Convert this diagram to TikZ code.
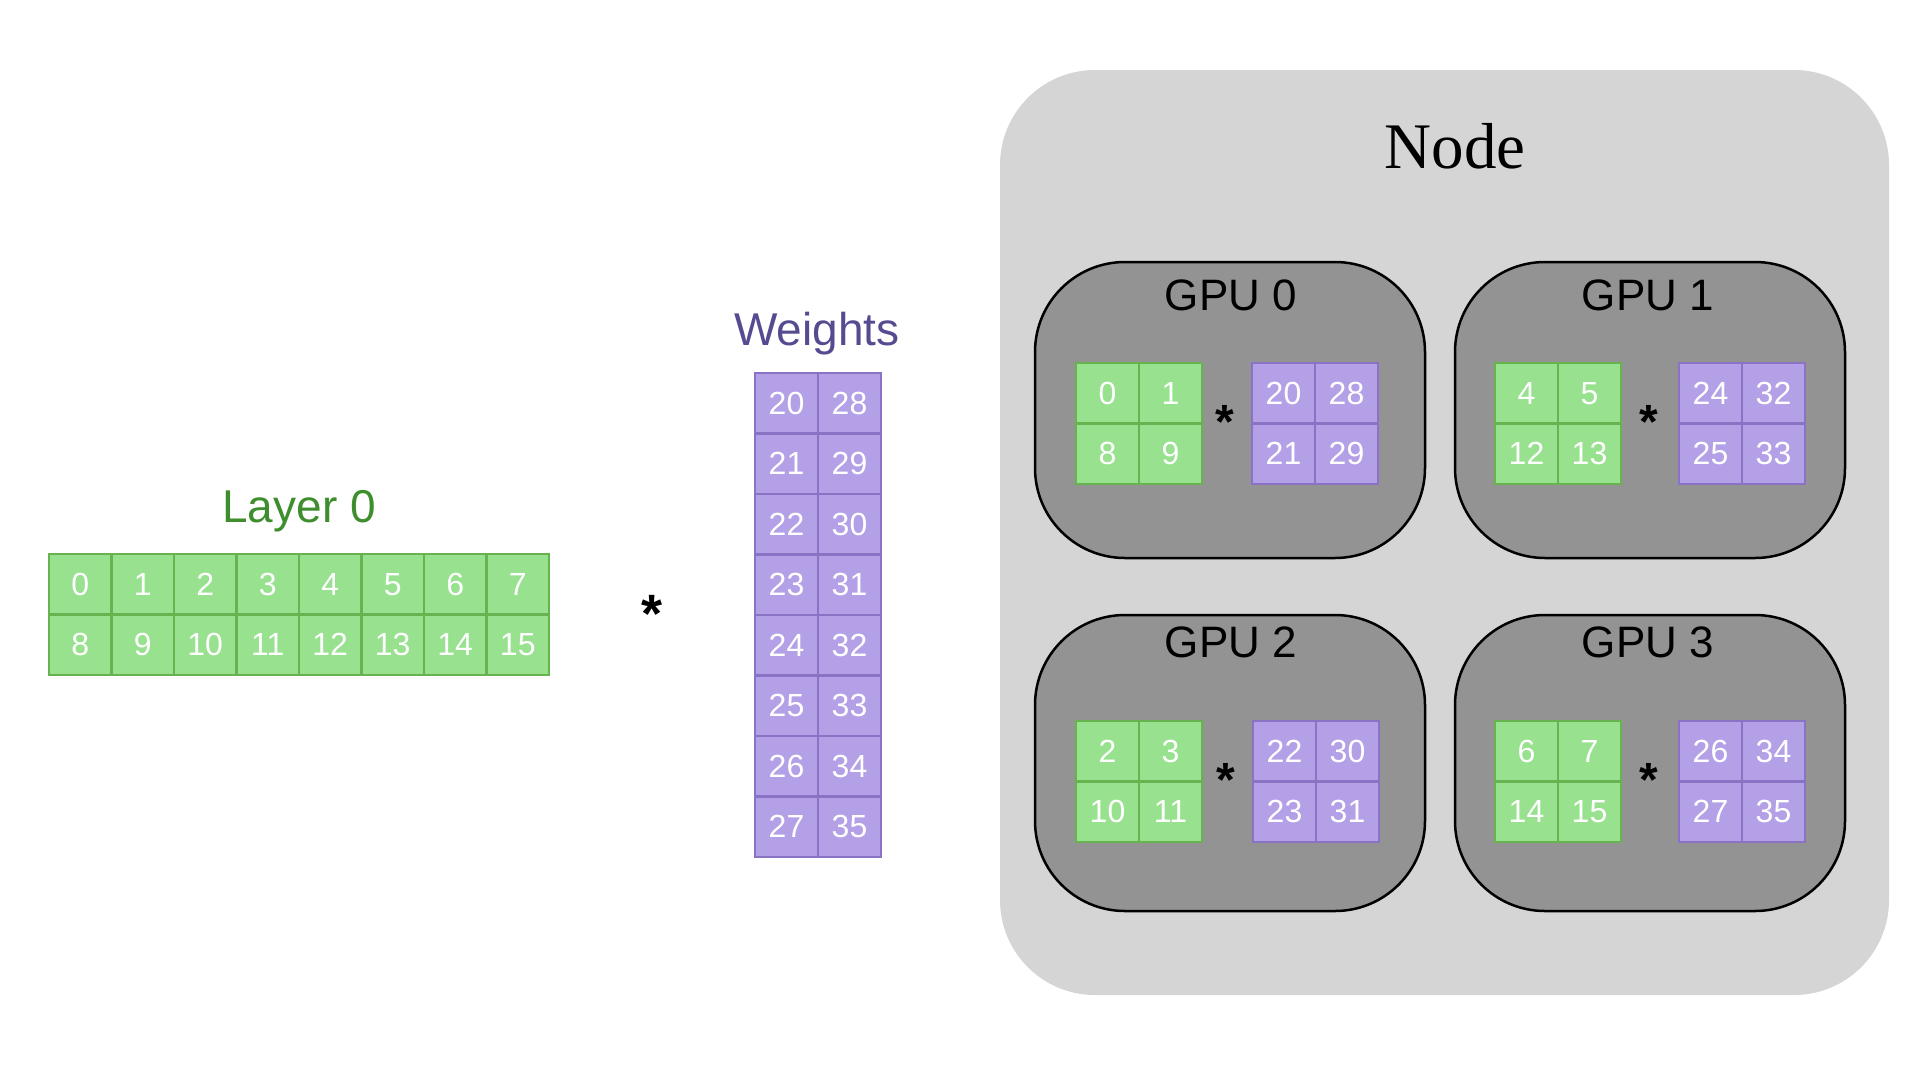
\documentclass[tikz,border=0pt]{standalone}
\usepackage{fontspec}
\setmainfont{Liberation Sans}
\newfontfamily\serifnode{Liberation Serif}
\definecolor{gfill}{HTML}{98E18F}
\definecolor{gline}{HTML}{66B34F}
\definecolor{pfill}{HTML}{B4A0E6}
\definecolor{pline}{HTML}{8A72C4}
\definecolor{gpufill}{HTML}{939393}
\definecolor{nodefill}{HTML}{D5D5D5}
\definecolor{layertext}{HTML}{3E8E2E}
\definecolor{weighttext}{HTML}{574A91}
\newcommand\blockfour[8]{%
  \node[#4] (#1a) at (#2+31.5,#3+30.25) {#5};
  \node[#4] (#1b) at (#2+94.5,#3+30.25) {#6};
  \node[#4] (#1c) at (#2+31.5,#3+90.75) {#7};
  \node[#4] (#1d) at (#2+94.5,#3+90.75) {#8};
}
\begin{document}
\begin{tikzpicture}[x=1pt,y=-1pt,
  cellbase/.style={draw, line width=2.5pt, minimum width=63pt, minimum height=60.5pt, inner sep=0pt, text=white, font=\fontsize{32}{32}\selectfont},
  gcell/.style={cellbase, fill=gfill, draw=gline},
  pcell/.style={cellbase, fill=pfill, draw=pline},
  gpubox/.style={draw=black, line width=2.5pt, fill=gpufill, rounded corners=90pt, minimum width=390pt, minimum height=296pt, inner sep=0pt},
  gpulabel/.style={anchor=base, inner sep=0pt, font=\fontsize{44}{44}\selectfont},
  bigstar/.style={anchor=north, inner sep=0pt, font=\bfseries\fontsize{54}{54}\selectfont},
  smallstar/.style={anchor=north, inner sep=0pt, font=\bfseries\fontsize{48}{48}\selectfont},
  title/.style={anchor=base, inner sep=0pt, font=\fontsize{46}{46}\selectfont}]
\useasboundingbox (0,0) rectangle (1920,1080);
\fill[white] (0,0) rectangle (1920,1080);

% Layer 0
\node[title, text=layertext] (layerlabel) at (299,522) {Layer 0};
\foreach \i in {0,...,7} {
  \pgfmathtruncatemacro\j{\i+8}
  \node[gcell, minimum width=62.5pt] (L\i) at ({49+62.5*\i+31.25},584.25) {\i};
  \node[gcell, minimum width=62.5pt] (L\j) at ({49+62.5*\i+31.25},644.75) {\j};
}
\node[bigstar] (mulstar) at (652,595) {*};

% Weights
\node[title, text=weighttext] (weightlabel) at (817,345) {Weights};
\foreach \r in {0,...,7} {
  \pgfmathtruncatemacro\a{20+\r}
  \pgfmathtruncatemacro\b{28+\r}
  \node[pcell] (W\a) at (786.5,{373+60.5*\r+30.25}) {\a};
  \node[pcell] (W\b) at (849.5,{373+60.5*\r+30.25}) {\b};
}

% Node box
\node[fill=nodefill, rounded corners=95pt, minimum width=889pt, minimum height=925pt, inner sep=0pt] (nodebox) at (1444.5,532.5) {};
\node[anchor=base, inner sep=0pt, font=\serifnode\fontsize{65}{65}\selectfont] (nodelabel) at (1455,168) {Node};

% GPUs
\node[gpubox] (gpu0) at (1230,410) {};
\node[gpubox] (gpu1) at (1650,410) {};
\node[gpubox] (gpu2) at (1230,763) {};
\node[gpubox] (gpu3) at (1650,763) {};
\node[gpulabel] (gpu0label) at (1231,310) {GPU 0};
\node[gpulabel] (gpu1label) at (1648,310) {GPU 1};
\node[gpulabel] (gpu2label) at (1231,657) {GPU 2};
\node[gpulabel] (gpu3label) at (1648,657) {GPU 3};

\blockfour{gz}{1076}{363}{gcell}{0}{1}{8}{9}
\blockfour{pz}{1252}{363}{pcell}{20}{28}{21}{29}
\node[smallstar] (star0) at (1225,405) {*};

\blockfour{go}{1495}{363}{gcell}{4}{5}{12}{13}
\blockfour{po}{1679}{363}{pcell}{24}{32}{25}{33}
\node[smallstar] (star1) at (1649,405) {*};

\blockfour{gt}{1076}{721}{gcell}{2}{3}{10}{11}
\blockfour{pt}{1253}{721}{pcell}{22}{30}{23}{31}
\node[smallstar] (star2) at (1226,763) {*};

\blockfour{gh}{1495}{721}{gcell}{6}{7}{14}{15}
\blockfour{ph}{1679}{721}{pcell}{26}{34}{27}{35}
\node[smallstar] (star3) at (1649,763) {*};
\end{tikzpicture}
\end{document}
